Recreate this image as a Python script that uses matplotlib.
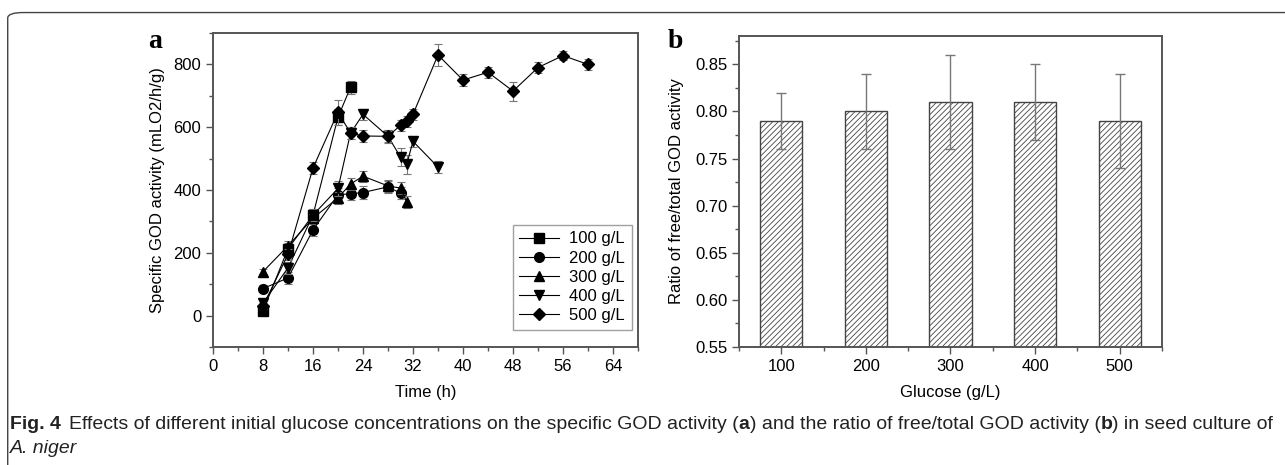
import numpy as np
import matplotlib
matplotlib.use("Agg")
from matplotlib import pyplot as plt
from matplotlib.patches import FancyBboxPatch
from matplotlib.ticker import MultipleLocator, FormatStrFormatter

plt.rcParams['font.family'] = ['Liberation Sans', 'DejaVu Sans']
plt.rcParams['hatch.color'] = '#666666'
plt.rcParams['hatch.linewidth'] = 0.6

# panel a: specific GOD activity vs time
t_100 = [8, 12, 16, 20, 22]
v_100 = [15, 213, 320, 632, 727]
e_100 = [12, 18, 18, 25, 20]

t_200 = [8, 12, 16, 20, 22, 24, 28, 30]
v_200 = [86, 120, 273, 385, 388, 392, 410, 390]
e_200 = [10, 20, 18, 20, 20, 20, 18, 18]

t_300 = [8, 12, 16, 20, 22, 24, 28, 30, 31]
v_300 = [140, 222, 310, 375, 419, 444, 413, 406, 362]
e_300 = [8, 15, 15, 20, 20, 18, 18, 18, 20]

t_400 = [8, 12, 16, 20, 22, 24, 28, 30, 31, 32, 36]
v_400 = [40, 152, 320, 405, 581, 641, 571, 505, 482, 555, 473]
e_400 = [10, 18, 18, 25, 20, 18, 20, 30, 30, 18, 20]

t_500 = [8, 12, 16, 20, 22, 24, 28, 30, 31, 32, 36, 40, 44, 48, 52, 56, 60]
v_500 = [30, 195, 470, 648, 581, 572, 571, 606, 619, 641, 830, 750, 775, 715, 790, 828, 800]
e_500 = [10, 18, 18, 40, 20, 20, 18, 18, 18, 18, 35, 18, 18, 30, 18, 15, 18]

labels_a = ['100 g/L', '200 g/L', '300 g/L', '400 g/L', '500 g/L']
markers = ['s', 'o', '^', 'v', 'D']

# panel b: ratio of free/total GOD activity
glucose = [100, 200, 300, 400, 500]
ratio = [0.79, 0.80, 0.81, 0.81, 0.79]
ratio_up = [0.03, 0.04, 0.05, 0.04, 0.05]
ratio_dn = [0.03, 0.04, 0.05, 0.04, 0.05]

fig = plt.figure(figsize=(12.85, 4.65), dpi=100)

# outer frame
frame = FancyBboxPatch((0.006, -0.1), 1.1, 1.073, boxstyle="round,pad=0,rounding_size=0.012",
                       transform=fig.transFigure, fill=False, ec='#444444', lw=1.0)
fig.patches.append(frame)

spine_c = '#555555'
fs = 12

def style_axes(ax):
    for s in ax.spines.values():
        s.set_color(spine_c)
        s.set_linewidth(1.4)
    ax.tick_params(which='both', direction='out', color=spine_c, labelsize=fs,
                   top=False, right=False)
    ax.tick_params(which='major', length=5, width=1)
    ax.tick_params(which='minor', length=3, width=1)

ax1 = fig.add_axes([213/1285, 1-347/465, (638-213)/1285, (347-33)/465])
series = [(t_100, v_100, e_100), (t_200, v_200, e_200), (t_300, v_300, e_300),
          (t_400, v_400, e_400), (t_500, v_500, e_500)]
for (t, v, e), lab, m in zip(series, labels_a, markers):
    ax1.errorbar(t, v, yerr=e, fmt='none', ecolor='#777777', elinewidth=0.8,
                 capsize=3, capthick=0.8)
    ax1.plot(t, v, color='black', lw=0.8, marker=m,
             ms=7 if m != 'D' else 6, label=lab)
ax1.set_xlim(0, 68)
ax1.set_ylim(-100, 900)
ax1.xaxis.set_major_locator(MultipleLocator(8))
ax1.xaxis.set_minor_locator(MultipleLocator(4))
ax1.yaxis.set_major_locator(MultipleLocator(200))
ax1.yaxis.set_minor_locator(MultipleLocator(100))
style_axes(ax1)
ax1.set_xlabel('Time (h)', fontsize=fs, labelpad=8)
ax1.set_ylabel('Specific GOD activity (mLO2/h/g)', fontsize=fs, labelpad=6)
leg = ax1.legend(loc='lower right', bbox_to_anchor=(0.985, 0.055), borderaxespad=0,
                 fontsize=fs, frameon=True, fancybox=False, edgecolor='#888888',
                 handlelength=2.4, borderpad=0.4, labelspacing=0.25, handletextpad=0.6)
leg.get_frame().set_linewidth(1.0)
fig.text(155/1285, 1-42/465, 'a', fontsize=20, fontweight='bold',
         family=['Liberation Serif', 'DejaVu Serif'], ha='center', va='center')

ax2 = fig.add_axes([739/1285, 1-347/465, (1162-739)/1285, (347-36)/465])
ax2.bar(glucose, ratio, width=50, color='white', edgecolor='#444444', lw=1.0,
        hatch='//////')
ax2.errorbar(glucose, ratio, yerr=[ratio_dn, ratio_up], fmt='none', ecolor='#777777',
             elinewidth=1.0, capsize=3.5, capthick=1.0)
ax2.set_xlim(50, 550)
ax2.set_ylim(0.55, 0.88)
ax2.set_xticks(glucose)
ax2.xaxis.set_minor_locator(MultipleLocator(50))
ax2.yaxis.set_major_locator(MultipleLocator(0.05))
ax2.yaxis.set_minor_locator(MultipleLocator(0.025))
ax2.yaxis.set_major_formatter(FormatStrFormatter('%.2f'))
style_axes(ax2)
ax2.set_xlabel('Glucose (g/L)', fontsize=fs, labelpad=8)
ax2.set_ylabel('Ratio of free/total GOD activity', fontsize=fs, labelpad=8)
fig.text(675/1285, 1-42/465, 'b', fontsize=20, fontweight='bold',
         family=['Liberation Serif', 'DejaVu Serif'], ha='center', va='center')

cap_font = ['Liberation Sans', 'DejaVu Sans']
cap_fs = 14
cap_y = 1 - 424/465
r = fig.canvas.get_renderer()

def put_after(prev, s, gap=0, **kw):
    bb = prev.get_window_extent(renderer=r)
    x = (bb.x1 + gap) / fig.bbox.width
    return fig.text(x, cap_y, s, fontsize=cap_fs, color='#222222', family=cap_font,
                    va='center', **kw)

t0 = fig.text(10/1285, cap_y, 'Fig. 4', fontsize=cap_fs, fontweight='bold', color='#222222',
              family=cap_font, va='center')
t1 = put_after(t0, 'Effects of different initial glucose concentrations on the specific GOD activity (', gap=8)
t2 = put_after(t1, 'a', fontweight='bold')
t3 = put_after(t2, ') and the ratio of free/total GOD activity (')
t4 = put_after(t3, 'b', fontweight='bold')
t5 = put_after(t4, ') in seed culture of')
fig.text(10/1285, 1-448/465, 'A. niger', fontsize=cap_fs, color='#222222', style='italic',
         family=cap_font, va='center')

fig.savefig('out.png', dpi=100)
